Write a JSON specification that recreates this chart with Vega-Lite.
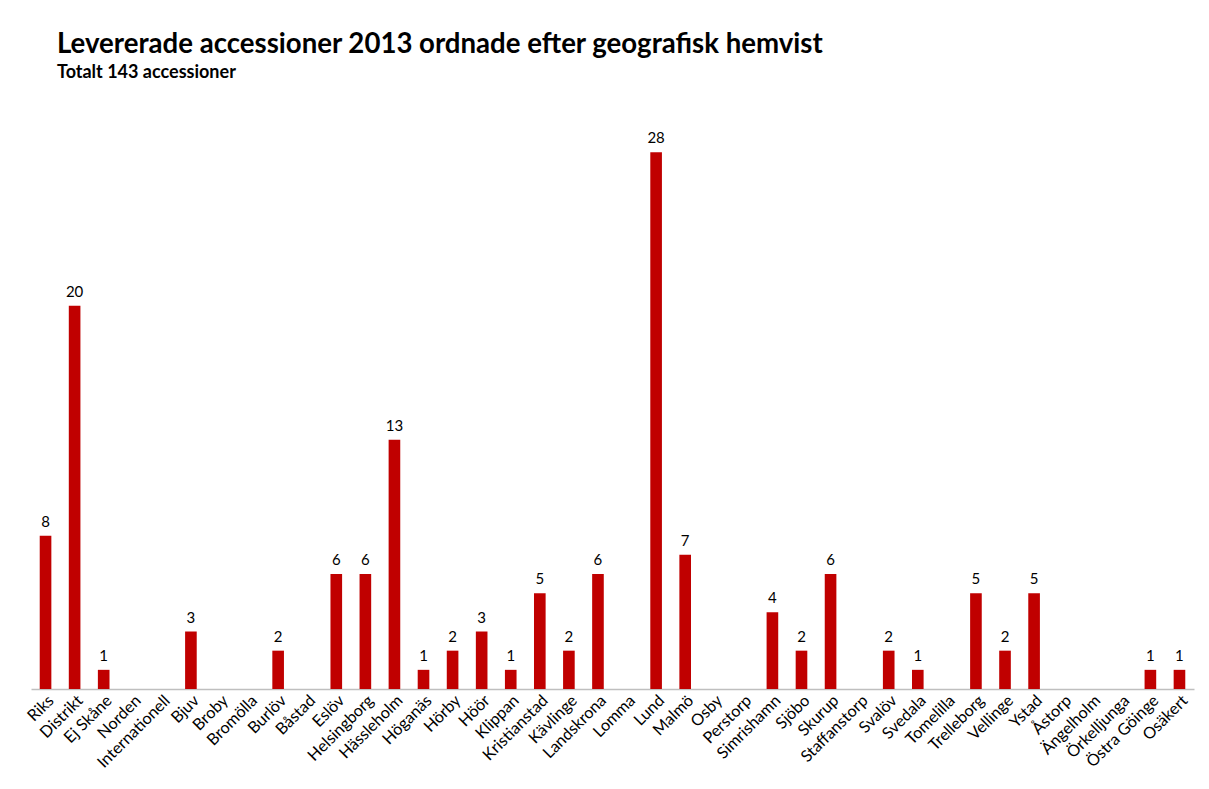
{
  "$schema": "https://vega.github.io/schema/vega-lite/v6.json",
  "autosize": "none",
  "width": 1163,
  "height": 575,
  "padding": {"left": 31, "top": 114, "right": 15, "bottom": 100},
  "background": "white",
  "config": {"view": {"stroke": null}, "font": "Lato"},
  "title": {
    "text": "Levererade accessioner 2013 ordnade efter geografisk hemvist",
    "subtitle": "Totalt 143 accessioner",
    "anchor": "start",
    "frame": "group",
    "dx": 26,
    "offset": 32,
    "fontSize": 27.6,
    "fontWeight": "bold",
    "color": "black",
    "subtitleFontSize": 18,
    "subtitleFontWeight": "bold",
    "subtitleColor": "black",
    "subtitlePadding": 5
  },
  "data": {
    "values": [
      {"ort": "Riks", "antal": 8},
      {"ort": "Distrikt", "antal": 20},
      {"ort": "Ej Skåne", "antal": 1},
      {"ort": "Norden", "antal": 0},
      {"ort": "Internationell", "antal": 0},
      {"ort": "Bjuv", "antal": 3},
      {"ort": "Broby", "antal": 0},
      {"ort": "Bromölla", "antal": 0},
      {"ort": "Burlöv", "antal": 2},
      {"ort": "Båstad", "antal": 0},
      {"ort": "Eslöv", "antal": 6},
      {"ort": "Helsingborg", "antal": 6},
      {"ort": "Hässleholm", "antal": 13},
      {"ort": "Höganäs", "antal": 1},
      {"ort": "Hörby", "antal": 2},
      {"ort": "Höör", "antal": 3},
      {"ort": "Klippan", "antal": 1},
      {"ort": "Kristianstad", "antal": 5},
      {"ort": "Kävlinge", "antal": 2},
      {"ort": "Landskrona", "antal": 6},
      {"ort": "Lomma", "antal": 0},
      {"ort": "Lund", "antal": 28},
      {"ort": "Malmö", "antal": 7},
      {"ort": "Osby", "antal": 0},
      {"ort": "Perstorp", "antal": 0},
      {"ort": "Simrishamn", "antal": 4},
      {"ort": "Sjöbo", "antal": 2},
      {"ort": "Skurup", "antal": 6},
      {"ort": "Staffanstorp", "antal": 0},
      {"ort": "Svalöv", "antal": 2},
      {"ort": "Svedala", "antal": 1},
      {"ort": "Tomelilla", "antal": 0},
      {"ort": "Trelleborg", "antal": 5},
      {"ort": "Vellinge", "antal": 2},
      {"ort": "Ystad", "antal": 5},
      {"ort": "Åstorp", "antal": 0},
      {"ort": "Ängelholm", "antal": 0},
      {"ort": "Örkelljunga", "antal": 0},
      {"ort": "Östra Göinge", "antal": 1},
      {"ort": "Osäkert", "antal": 1}
    ]
  },
  "encoding": {
    "x": {
      "field": "ort",
      "type": "nominal",
      "sort": null,
      "scale": {"paddingInner": 0.6, "paddingOuter": 0.3},
      "axis": {
        "title": null,
        "labelAngle": -45,
        "labelFontSize": 16.2,
        "labelColor": "#000000",
        "labelPadding": 3,
        "ticks": false,
        "domainColor": "#bfbfbf",
        "domainWidth": 1.5
      }
    },
    "y": {
      "field": "antal",
      "type": "quantitative",
      "scale": {"domain": [0, 30]},
      "axis": null
    }
  },
  "layer": [
    {"mark": {"type": "bar", "color": "#c00000"}},
    {
      "transform": [{"filter": "datum.antal > 0"}],
      "mark": {"type": "text", "dy": -14, "fontSize": 15, "color": "#000000"},
      "encoding": {"text": {"field": "antal", "type": "quantitative"}}
    }
  ]
}
